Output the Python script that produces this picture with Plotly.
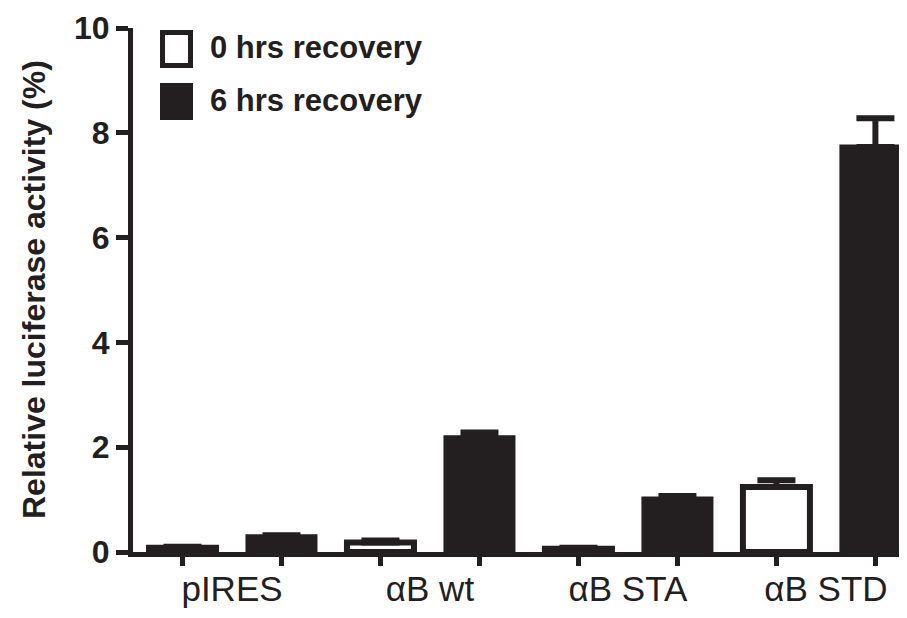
import plotly.graph_objects as go

groups = ["pIRES", "αB wt", "αB STA", "αB STD"]
series_names = ["0 hrs recovery", "6 hrs recovery"]
hrs0 = [0.08, 0.18, 0.06, 1.24]
hrs0_err = [0.02, 0.04, 0.02, 0.13]
hrs6 = [0.29, 2.18, 1.01, 7.73]
hrs6_err = [0.03, 0.10, 0.06, 0.55]
y_ticks = [0, 2, 4, 6, 8, 10]

DARK = "#231f20"
FONT = "Liberation Sans, Arial, sans-serif"

fig = go.Figure()
fig.add_trace(go.Bar(
    x=groups, y=hrs0, name=series_names[0],
    marker=dict(color="white", line=dict(color=DARK, width=6)),
    error_y=dict(type="data", array=hrs0_err, arrayminus=[0] * len(hrs0),
                 symmetric=False, color=DARK, thickness=6, width=19),
    showlegend=False,
))
fig.add_trace(go.Bar(
    x=groups, y=hrs6, name=series_names[1],
    marker=dict(color=DARK, line=dict(color=DARK, width=5)),
    error_y=dict(type="data", array=hrs6_err, arrayminus=[0] * len(hrs6),
                 symmetric=False, color=DARK, thickness=6, width=19),
    showlegend=False,
))

# tick marks under each bar (secondary numeric axis over the category axis)
tick_pos = []
for i in range(len(groups)):
    tick_pos += [i - 0.25, i + 0.25]
fig.add_trace(go.Scatter(
    x=tick_pos, y=[0] * len(tick_pos), xaxis="x2", mode="markers",
    marker=dict(opacity=0), hoverinfo="skip", showlegend=False,
))

xr = [-0.5, 3.45]
fig.update_layout(
    width=907, height=618,
    margin=dict(l=125, r=0, t=20, b=73.5),
    paper_bgcolor="white", plot_bgcolor="white",
    barmode="group", bargap=0.0, bargroupgap=0.323,
    font=dict(family=FONT, color=DARK),
    xaxis=dict(
        type="category", range=xr, showline=True, linewidth=5, linecolor=DARK,
        ticks="", ticklabelstandoff=2,
        tickfont=dict(family=FONT, size=35, color=DARK),
        showgrid=False, zeroline=False,
    ),
    xaxis2=dict(
        overlaying="x", anchor="y", side="bottom", range=xr,
        tickmode="array", tickvals=tick_pos, ticks="outside", ticklen=13,
        tickwidth=5, tickcolor=DARK, showticklabels=False, showline=False,
        showgrid=False, zeroline=False,
    ),
    yaxis=dict(
        range=[0, 10], tickmode="array", tickvals=y_ticks,
        showline=True, linewidth=5, linecolor=DARK,
        ticks="outside", ticklen=12, tickwidth=5, tickcolor=DARK,
        tickfont=dict(family=FONT, size=32, color=DARK, weight="bold"),
        showgrid=False, zeroline=False,
    ),
)

# y-axis title
fig.add_annotation(
    text="<b>Relative luciferase activity (%)</b>", textangle=-90,
    xref="paper", yref="paper", x=(26 - 125) / 782, y=0.5,
    xanchor="center", yanchor="middle", showarrow=False,
    font=dict(family=FONT, size=32, color=DARK),
)

# legend (boxes in pixel offsets from the plot's top-left corner)
fig.add_shape(type="rect", xref="paper", yref="paper",
              xsizemode="pixel", ysizemode="pixel", xanchor=0, yanchor=1,
              x0=29.5, x1=57.5, y0=-4.5, y1=-37.5,
              line=dict(color=DARK, width=5), fillcolor="white")
fig.add_shape(type="rect", xref="paper", yref="paper",
              xsizemode="pixel", ysizemode="pixel", xanchor=0, yanchor=1,
              x0=27, x1=60, y0=-55, y1=-92,
              line=dict(color=DARK, width=0), fillcolor=DARK)
for name, ypx in zip(series_names, [40, 93]):
    fig.add_annotation(
        text="<b>%s</b>" % name, xref="paper", yref="paper",
        x=(200 - 125) / 782, y=(544.5 - ypx) / 524.5,
        xanchor="left", yanchor="middle", showarrow=False,
        font=dict(family=FONT, size=31, color=DARK),
    )

fig.write_html("out.html")
